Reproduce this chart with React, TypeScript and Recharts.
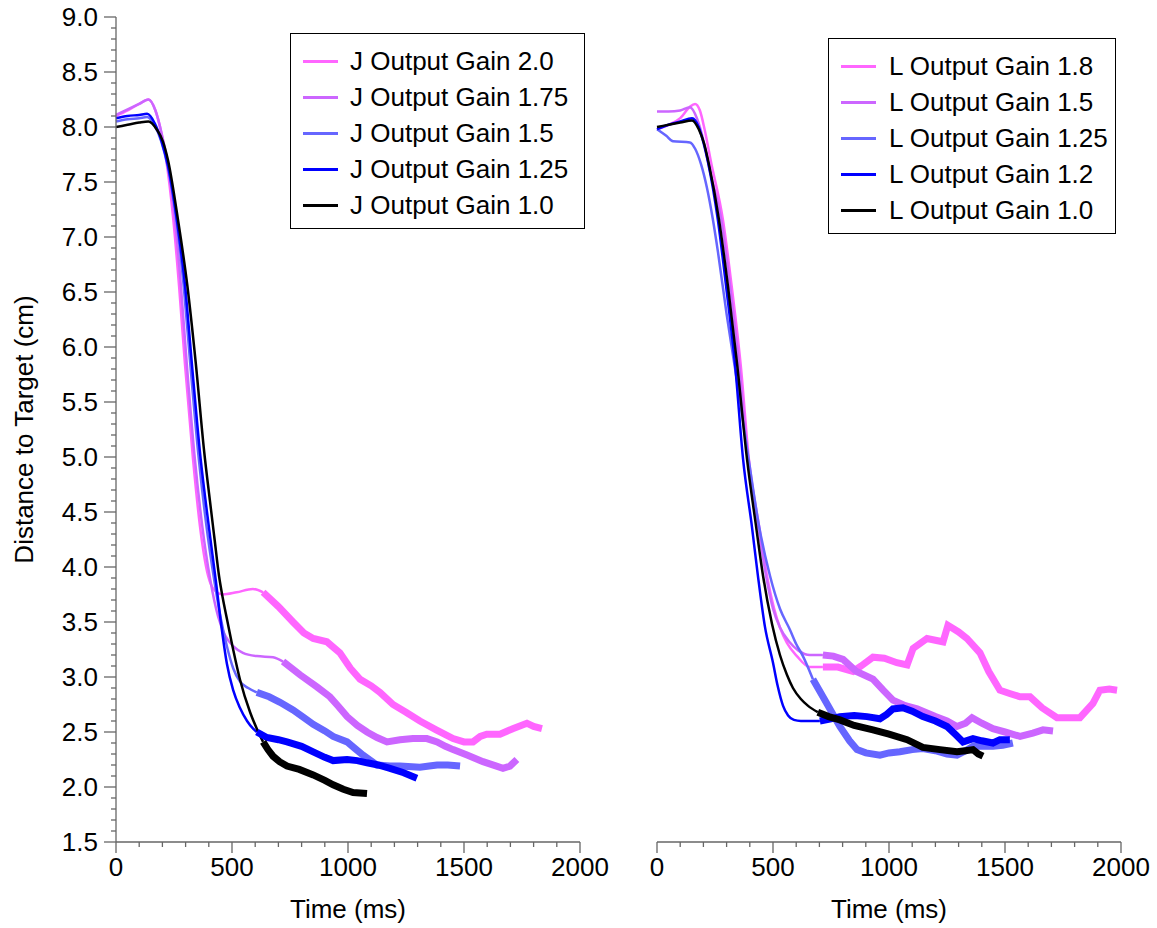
import React from 'react'
import { LineChart, Line, XAxis, YAxis } from 'recharts'

// time (ms), distance (cm) pairs
// J panel: thin part = lift-off/approach, thick part = corrective phase
const j20Thin = [[0, 8.1], [50, 8.15], [100, 8.21], [140, 8.25], [170, 8.15], [195, 7.95], [215, 7.72], [247, 7.16], [272, 6.55], [297, 5.85], [332, 4.98], [362, 4.37], [397, 3.92], [420, 3.8], [460, 3.75], [520, 3.77], [590, 3.8], [634, 3.77]]
const j20Thick = [[634, 3.77], [700, 3.64], [763, 3.5], [810, 3.4], [850, 3.35], [909, 3.32], [965, 3.22], [1010, 3.08], [1052, 2.98], [1100, 2.92], [1138, 2.86], [1194, 2.75], [1250, 2.68], [1310, 2.6], [1380, 2.52], [1453, 2.44], [1500, 2.41], [1539, 2.41], [1570, 2.46], [1598, 2.48], [1655, 2.48], [1710, 2.53], [1771, 2.58], [1800, 2.55], [1836, 2.53]]
const j175Thin = [[0, 8.11], [50, 8.16], [100, 8.21], [140, 8.25], [170, 8.15], [198, 7.93], [220, 7.7], [254, 7.16], [280, 6.55], [305, 5.85], [340, 4.98], [372, 4.37], [405, 3.9], [440, 3.55], [470, 3.38], [505, 3.28], [547, 3.22], [607, 3.19], [677, 3.18], [720, 3.14]]
const j175Thick = [[720, 3.14], [793, 3.02], [866, 2.91], [922, 2.82], [960, 2.73], [996, 2.64], [1040, 2.56], [1082, 2.5], [1125, 2.45], [1168, 2.41], [1224, 2.43], [1280, 2.44], [1340, 2.44], [1384, 2.41], [1420, 2.37], [1453, 2.34], [1513, 2.29], [1582, 2.23], [1640, 2.19], [1668, 2.17], [1698, 2.19], [1728, 2.25]]
const j15Thin = [[0, 8.05], [50, 8.07], [100, 8.08], [134, 8.09], [165, 8.02], [195, 7.87], [222, 7.65], [260, 7.16], [292, 6.55], [320, 5.85], [357, 4.98], [390, 4.37], [422, 3.9], [450, 3.55], [478, 3.28], [505, 3.08], [534, 2.96], [570, 2.9], [607, 2.86]]
const j15Thick = [[607, 2.86], [660, 2.82], [707, 2.77], [763, 2.7], [810, 2.63], [850, 2.57], [900, 2.51], [936, 2.46], [996, 2.41], [1030, 2.35], [1065, 2.29], [1125, 2.2], [1180, 2.19], [1224, 2.19], [1310, 2.18], [1350, 2.19], [1384, 2.2], [1430, 2.2], [1483, 2.19]]
const j125Thin = [[0, 8.08], [50, 8.1], [100, 8.11], [134, 8.12], [168, 8.03], [198, 7.86], [225, 7.64], [262, 7.16], [298, 6.55], [327, 5.85], [365, 4.98], [400, 4.37], [430, 3.88], [455, 3.45], [478, 3.12], [505, 2.88], [534, 2.72], [565, 2.6], [591, 2.53], [607, 2.5]]
const j125Thick = [[607, 2.5], [650, 2.45], [700, 2.43], [737, 2.41], [800, 2.37], [850, 2.32], [900, 2.27], [936, 2.24], [996, 2.25], [1040, 2.24], [1082, 2.22], [1130, 2.2], [1181, 2.17], [1240, 2.13], [1297, 2.08]]
const j10Thin = [[0, 8.0], [50, 8.02], [100, 8.04], [140, 8.05], [175, 7.98], [202, 7.87], [224, 7.7], [267, 7.16], [308, 6.55], [344, 5.85], [380, 5.05], [405, 4.6], [425, 4.25], [444, 3.92], [460, 3.72], [478, 3.53], [505, 3.25], [534, 2.98], [578, 2.68], [607, 2.53], [634, 2.41]]
const j10Thick = [[634, 2.41], [655, 2.34], [677, 2.28], [705, 2.23], [737, 2.19], [790, 2.16], [850, 2.11], [900, 2.06], [936, 2.02], [980, 1.98], [1022, 1.95], [1082, 1.94]]

// L panel
const l18Thin = [[0, 7.98], [50, 8.02], [100, 8.08], [140, 8.18], [164, 8.21], [185, 8.15], [205, 7.98], [233, 7.68], [284, 7.16], [322, 6.55], [362, 5.81], [396, 4.98], [440, 4.37], [474, 3.92], [505, 3.62], [530, 3.45], [560, 3.31], [603, 3.19], [659, 3.09], [715, 3.09]]
const l18Thick = [[715, 3.09], [780, 3.09], [845, 3.05], [880, 3.1], [931, 3.18], [980, 3.17], [1034, 3.13], [1078, 3.11], [1104, 3.26], [1164, 3.35], [1210, 3.33], [1233, 3.32], [1254, 3.47], [1300, 3.41], [1336, 3.35], [1392, 3.22], [1430, 3.05], [1478, 2.88], [1520, 2.85], [1565, 2.82], [1608, 2.82], [1660, 2.72], [1724, 2.63], [1780, 2.63], [1823, 2.63], [1879, 2.76], [1909, 2.88], [1950, 2.89], [1983, 2.88]]
const l15Thin = [[0, 8.14], [50, 8.14], [100, 8.15], [142, 8.18], [172, 8.08], [200, 7.88], [228, 7.6], [277, 7.16], [315, 6.55], [355, 5.81], [392, 4.98], [436, 4.37], [470, 3.92], [500, 3.62], [530, 3.45], [570, 3.32], [610, 3.24], [659, 3.2], [715, 3.2]]
const l15Thick = [[715, 3.2], [760, 3.19], [802, 3.16], [860, 3.05], [931, 2.98], [975, 2.88], [1017, 2.79], [1070, 2.74], [1121, 2.71], [1200, 2.64], [1250, 2.6], [1293, 2.55], [1330, 2.58], [1358, 2.63], [1400, 2.58], [1448, 2.53], [1500, 2.5], [1565, 2.46], [1620, 2.49], [1664, 2.52], [1707, 2.51]]
const l125Thin = [[0, 7.98], [40, 7.92], [69, 7.87], [142, 7.86], [165, 7.8], [190, 7.66], [215, 7.45], [240, 7.17], [263, 6.86], [300, 6.3], [336, 5.81], [395, 4.98], [440, 4.37], [487, 3.92], [530, 3.62], [573, 3.43], [600, 3.3], [629, 3.19], [672, 2.98]]
const l125Thick = [[672, 2.98], [732, 2.76], [788, 2.55], [830, 2.42], [862, 2.34], [900, 2.31], [961, 2.29], [1000, 2.31], [1047, 2.32], [1100, 2.34], [1146, 2.35], [1200, 2.33], [1250, 2.3], [1293, 2.29], [1330, 2.33], [1362, 2.37], [1400, 2.37], [1448, 2.37], [1490, 2.38], [1534, 2.4]]
const l12Thin = [[0, 7.98], [50, 8.02], [100, 8.05], [151, 8.08], [180, 8.0], [200, 7.86], [220, 7.68], [262, 7.16], [298, 6.55], [336, 5.85], [371, 4.98], [409, 4.37], [435, 3.92], [465, 3.46], [500, 3.13], [520, 2.92], [543, 2.74], [565, 2.65], [590, 2.61], [620, 2.6], [660, 2.6], [702, 2.6]]
const l12Thick = [[702, 2.6], [750, 2.62], [788, 2.64], [850, 2.65], [905, 2.64], [961, 2.62], [990, 2.66], [1017, 2.71], [1060, 2.72], [1100, 2.69], [1146, 2.64], [1200, 2.6], [1250, 2.55], [1290, 2.47], [1319, 2.41], [1362, 2.44], [1400, 2.42], [1448, 2.4], [1478, 2.43], [1521, 2.43]]
const l10Thin = [[0, 8.0], [50, 8.02], [100, 8.04], [151, 8.06], [180, 7.98], [203, 7.85], [225, 7.65], [267, 7.16], [306, 6.55], [345, 5.85], [388, 4.98], [427, 4.37], [457, 3.92], [496, 3.48], [530, 3.2], [560, 3.02], [586, 2.9], [620, 2.8], [650, 2.74], [693, 2.68]]
const l10Thick = [[693, 2.68], [740, 2.64], [788, 2.61], [850, 2.56], [931, 2.52], [1000, 2.48], [1078, 2.43], [1146, 2.36], [1220, 2.34], [1293, 2.32], [1330, 2.33], [1362, 2.34], [1385, 2.3], [1405, 2.28]]

const colors = ['#FF66FF', '#CC66FF', '#6666FF', '#0000FF', '#000000']
const jNames = ['J Output Gain 2.0', 'J Output Gain 1.75', 'J Output Gain 1.5', 'J Output Gain 1.25', 'J Output Gain 1.0']
const lNames = ['L Output Gain 1.8', 'L Output Gain 1.5', 'L Output Gain 1.25', 'L Output Gain 1.2', 'L Output Gain 1.0']

const yMajor = [1.5, 2.0, 2.5, 3.0, 3.5, 4.0, 4.5, 5.0, 5.5, 6.0, 6.5, 7.0, 7.5, 8.0, 8.5, 9.0]
const xMajor = [0, 500, 1000, 1500, 2000]

// minor ticks every 0.1 cm / 100 ms
const yTicks: number[] = []
for (let i = 0; i <= 75; i++) yTicks.push((15 + i) / 10)
const xTicks: number[] = []
for (let i = 0; i <= 20; i++) xTicks.push(i * 100)

const toPts = (a: number[][]) => a.map(([t, v]) => ({ t, v }))

const jSeries = [
  { thin: j20Thin, thick: j20Thick },
  { thin: j175Thin, thick: j175Thick },
  { thin: j15Thin, thick: j15Thick },
  { thin: j125Thin, thick: j125Thick },
  { thin: j10Thin, thick: j10Thick },
]
const lSeries = [
  { thin: l18Thin, thick: l18Thick },
  { thin: l15Thin, thick: l15Thick },
  { thin: l125Thin, thick: l125Thick },
  { thin: l12Thin, thick: l12Thick },
  { thin: l10Thin, thick: l10Thick },
]

const FONT = '"Liberation Sans", Arial, Helvetica, sans-serif'
const AXIS = '#666'
const FS = 26

const YTick = (props: any) => {
  const { x, y, payload } = props
  const v = payload.value
  const major = yMajor.some((m) => Math.abs(m - v) < 1e-6)
  return (
    <g>
      <line x1={x - (major ? 12 : 5)} x2={x} y1={y} y2={y} stroke={AXIS} strokeWidth={1.3} />
      {major && (
        <text x={x - 18} y={y + 9} textAnchor="end" fontSize={FS} fontFamily={FONT} fill="#000">
          {v.toFixed(1)}
        </text>
      )}
    </g>
  )
}

const XTick = (props: any) => {
  const { x, y, payload } = props
  const v = payload.value
  const major = xMajor.includes(v)
  return (
    <g>
      <line x1={x} x2={x} y1={y} y2={y + (major ? 11 : 5)} stroke={AXIS} strokeWidth={1.3} />
      {major && (
        <text x={x} y={y + 34} textAnchor="middle" fontSize={FS} fontFamily={FONT} fill="#000">
          {v}
        </text>
      )}
    </g>
  )
}

const Panel = ({ series, left, width, margin, showY }: any) => (
  <div style={{ position: 'absolute', left, top: 0 }}>
    <LineChart width={width} height={928} margin={margin}>
      <XAxis
        type="number"
        dataKey="t"
        domain={[0, 2000]}
        ticks={xTicks}
        interval={0}
        tickSize={0}
        tickMargin={0}
        tick={<XTick />}
        height={86}
        axisLine={{ stroke: AXIS, strokeWidth: 1.3 }}
        label={{ value: 'Time (ms)', position: 'insideBottom', offset: 10, fontSize: FS, fontFamily: FONT, fill: '#000' }}
      />
      <YAxis
        type="number"
        dataKey="v"
        domain={[1.5, 9]}
        ticks={yTicks}
        interval={0}
        tickSize={0}
        tickMargin={0}
        tick={<YTick />}
        width={116}
        hide={!showY}
        axisLine={{ stroke: AXIS, strokeWidth: 1.3 }}
        label={{ value: 'Distance to Target (cm)', angle: -90, position: 'center', dx: -34, fontSize: FS, fontFamily: FONT, fill: '#000' }}
      />
      {series.map((s: any, i: number) => (
        <Line
          key={'thin' + i}
          data={toPts(s.thin)}
          dataKey="v"
          type="monotone"
          stroke={colors[i]}
          strokeWidth={2.5}
          dot={false}
          activeDot={false}
          isAnimationActive={false}
        />
      ))}
      {series.map((s: any, i: number) => (
        <Line
          key={'thick' + i}
          data={toPts(s.thick)}
          dataKey="v"
          type="linear"
          stroke={colors[i]}
          strokeWidth={7}
          dot={false}
          activeDot={false}
          isAnimationActive={false}
        />
      ))}
    </LineChart>
  </div>
)

const LegendBox = ({ names, left, top, width, gap }: any) => (
  <div
    style={{
      position: 'absolute',
      left,
      top,
      width,
      height: 196,
      boxSizing: 'border-box',
      border: '1.5px solid #000',
      background: '#fff',
      paddingTop: 9,
      fontFamily: FONT,
      fontSize: FS,
    }}
  >
    {names.map((n: string, i: number) => (
      <div key={n} style={{ height: 36, lineHeight: '36px', display: 'flex', alignItems: 'center', whiteSpace: 'nowrap' }}>
        <span style={{ display: 'inline-block', width: 35, height: 3, background: colors[i], marginLeft: 12, marginRight: gap }} />
        <span>{n}</span>
      </div>
    ))}
  </div>
)

export default function App() {
  return (
    <div style={{ position: 'absolute', left: 0, top: 0, width: 1157, height: 928, background: '#fff', fontFamily: FONT }}>
      <Panel series={jSeries} left={0} width={625} margin={{ top: 17, right: 45, bottom: 0, left: 0 }} showY />
      <Panel series={lSeries} left={625} width={532} margin={{ top: 17, right: 36, bottom: 0, left: 32 }} showY={false} />
      <LegendBox names={jNames} left={290} top={33} width={295} gap={12} />
      <LegendBox names={lNames} left={828} top={38} width={288} gap={13} />
    </div>
  )
}
